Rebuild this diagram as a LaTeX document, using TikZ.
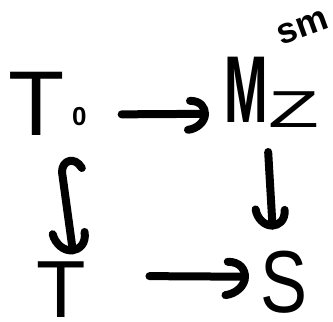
\documentclass[tikz,border=0pt]{standalone}
\usepackage{fontspec}
\setmainfont{Liberation Sans}
\tikzset{
  lbl/.style={inner sep=0pt, outer sep=0pt},
  hw/.style={line width=8pt, line cap=round, line join=round},
  % open, hand-drawn arrowhead, tip at the origin, pointing along +x
  pics/head/.style={code={
    \draw[hw] (-15,13) .. controls (-4,13) and (0,6) .. (0,0)
                        .. controls (0,-8) and (-8,-15) .. (-17,-16);
  }},
}
\begin{document}
\begin{tikzpicture}[x=1pt,y=1pt]
\useasboundingbox (0,0) rectangle (333,322);
% objects of the square
\node[lbl, anchor=base west] (T0) at (9,186)
  {\fontsize{92}{92}\selectfont T\hspace{7pt}\raisebox{10pt}{\fontsize{26}{26}\selectfont\bfseries 0}};
\node[lbl, anchor=base west] (Mz) at (225,199)
  {\fontsize{95}{95}\selectfont\scalebox{0.55}[1]{\bfseries M}\raisebox{-5pt}{\scalebox{1.6}[1]{\fontsize{52}{52}\selectfont Z}}};
\node[lbl, rotate=20] (sm) at (303,294) {\fontsize{36}{36}\selectfont\bfseries sm};
\node[lbl, anchor=base west] (T) at (36,4) {\fontsize{81}{81}\selectfont T};
\node[lbl, anchor=base west] (S) at (260,9) {\fontsize{88}{88}\selectfont\scalebox{0.8}[1]{S}};
% ends of the maps
\coordinate (a1) at ([shift={(35,-10)}]T0.east);
\coordinate (a2) at ([shift={(-20,-21)}]Mz.west);
\coordinate (b1) at ([shift={(-4,-24)}]Mz.south);
\coordinate (b2) at ([shift={(-11,26)}]S.north);
\coordinate (c1) at ([shift={(64,14)}]T.east);
\coordinate (c2) at ([shift={(-15,6)}]S.west);
\coordinate (d1) at ([shift={(34,-32)}]T0.south);
\coordinate (d2) at ([shift={(12,12)}]T.north);
% maps
\draw[hw] (a1) -- (a2);
\pic at (a2) {head};
\draw[hw] (b1) -- (b2);
\pic[rotate=-87] at (b2) {head};
\draw[hw] (c1) -- (c2);
\pic[scale=1.15] at (c2) {head};
\draw[hw] (d1) .. controls +(-7,12) and +(0,12) .. (62,150) -- (d2);
\pic[rotate=-82, scale=1.1] at (d2) {head};
\end{tikzpicture}
\end{document}
